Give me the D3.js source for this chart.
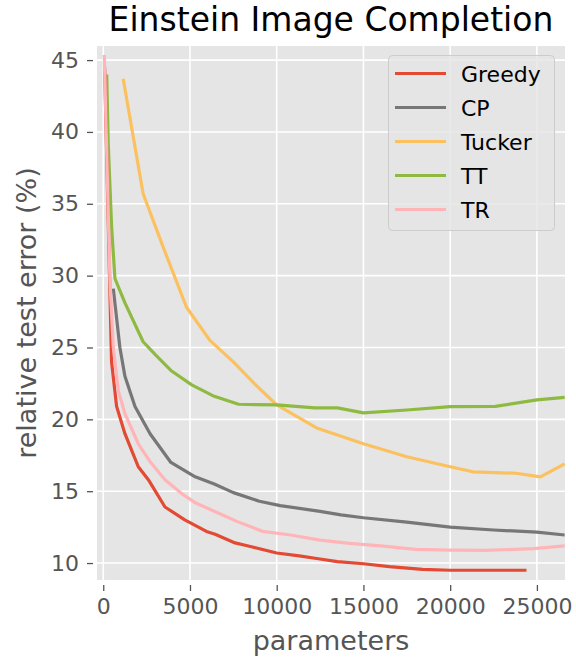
<!DOCTYPE html>
<html>
<head>
<meta charset="utf-8">
<script src="https://cdn.jsdelivr.net/npm/d3@7"></script>
<style>
  body { margin: 0; background: #fff; }
  svg { font-family: "DejaVu Sans", sans-serif; }
</style>
</head>
<body>
<svg id="chart" width="576" height="661"></svg>
<script>
// values: [parameters, relative test error %]
var greedy = [[80,44.5],[480,24.0],[770,20.9],[1250,19.0],[1650,17.8],[2020,16.7],[2600,15.8],[3560,13.9],[4700,13.0],[5950,12.2],[6450,12.0],[7600,11.4],[8300,11.2],[10000,10.7],[11300,10.5],[12400,10.3],[13500,10.1],[15000,9.95],[16500,9.75],[18400,9.56],[20000,9.5],[22000,9.5],[24400,9.5]];
var cp = [[580,29.1],[960,25.0],[1250,23.0],[1830,20.9],[2700,19.0],[3900,17.0],[5300,16.0],[6400,15.5],[7500,14.9],[9000,14.3],[10200,14.0],[12500,13.6],[13700,13.35],[15000,13.15],[17500,12.85],[20000,12.5],[22500,12.3],[25000,12.15],[26600,11.95]];
var tucker = [[1150,43.7],[2300,35.7],[3450,32.0],[4800,27.8],[6150,25.5],[7500,24.0],[8700,22.5],[10000,21.0],[12300,19.4],[15000,18.3],[17500,17.4],[20000,16.7],[21300,16.35],[23800,16.25],[25200,16.0],[26600,16.9]];
var tt = [[200,44.0],[290,39.1],[485,33.3],[675,29.8],[1250,28.1],[2300,25.4],[3000,24.5],[3900,23.4],[5100,22.4],[6400,21.6],[7800,21.05],[10000,21.0],[12200,20.8],[13500,20.8],[15000,20.45],[17500,20.65],[20000,20.88],[22600,20.9],[25000,21.35],[26600,21.53]];
var tr = [[60,45.35],[386,29.7],[577,25.05],[865,22.0],[1250,20.4],[2020,18.3],[2700,17.05],[3560,15.8],[4500,14.85],[5300,14.2],[6400,13.6],[7700,12.9],[9200,12.2],[10800,11.95],[12500,11.6],[14200,11.37],[16000,11.2],[18000,10.95],[20000,10.9],[22000,10.88],[24800,11.0],[26600,11.2]];

var seriesNames = ["Greedy", "CP", "Tucker", "TT", "TR"];
var seriesData = [greedy, cp, tucker, tt, tr];
var seriesColors = ["#E24A33", "#777777", "#FBC15E", "#8EBA42", "#FFB5B8"];
// drawing order: TR is on top of greedy at the start
var drawOrder = [1, 2, 3, 0, 4];

var xTicks = [0, 5000, 10000, 15000, 20000, 25000];
var yTicks = [10, 15, 20, 25, 30, 35, 40, 45];

var svg = d3.select("#chart");
var pLeft = 97, pRight = 565, pTop = 46, pBottom = 580;

var x = d3.scaleLinear().domain([-360, 26620]).range([pLeft, pRight]);
var y = d3.scaleLinear().domain([8.82, 45.98]).range([pBottom, pTop]);

svg.append("rect")
  .attr("x", pLeft).attr("y", pTop)
  .attr("width", pRight - pLeft).attr("height", pBottom - pTop)
  .attr("fill", "#E5E5E5");

// grid
var grid = svg.append("g");
grid.selectAll(".gx").data(xTicks).enter().append("line")
  .attr("x1", d => x(d)).attr("x2", d => x(d))
  .attr("y1", pTop).attr("y2", pBottom)
  .attr("stroke", "#fff").attr("stroke-width", 1.6);
grid.selectAll(".gy").data(yTicks).enter().append("line")
  .attr("x1", pLeft).attr("x2", pRight)
  .attr("y1", d => y(d)).attr("y2", d => y(d))
  .attr("stroke", "#fff").attr("stroke-width", 1.6);

// axes, offset a bit from the plot like the reference
var xAxis = svg.append("g")
  .attr("transform", "translate(0," + (pBottom + 5) + ")")
  .call(d3.axisBottom(x).tickValues(xTicks).tickSize(6).tickPadding(7).tickFormat(d3.format("d")));
var yAxis = svg.append("g")
  .attr("transform", "translate(" + (pLeft - 4) + ",0)")
  .call(d3.axisLeft(y).tickValues(yTicks).tickSize(6).tickPadding(8).tickFormat(d3.format("d")));

[xAxis, yAxis].forEach(function (a) {
  a.select(".domain").remove();
  a.selectAll(".tick line").attr("stroke", "#555").attr("stroke-width", 1.3);
  a.selectAll(".tick text")
    .attr("fill", "#555")
    .style("font-size", "22px")
    .style("font-family", "DejaVu Sans");
});

svg.append("defs").append("clipPath").attr("id", "clip")
  .append("rect").attr("x", pLeft).attr("y", pTop)
  .attr("width", pRight - pLeft).attr("height", pBottom - pTop);

var line = d3.line().x(d => x(d[0])).y(d => y(d[1]));

svg.append("g").attr("clip-path", "url(#clip)")
  .selectAll("path").data(drawOrder).enter().append("path")
  .attr("d", i => line(seriesData[i]))
  .attr("fill", "none")
  .attr("stroke", i => seriesColors[i])
  .attr("stroke-width", 3.2)
  .attr("stroke-linejoin", "round");

// legend
var lg = svg.append("g");
lg.append("rect")
  .attr("x", 388.5).attr("y", 55.5)
  .attr("width", 166).attr("height", 175)
  .attr("rx", 4)
  .attr("fill", "#E5E5E5").attr("fill-opacity", 0.8)
  .attr("stroke", "#CCCCCC").attr("stroke-width", 1);

var items = lg.selectAll(".item").data(seriesNames).enter().append("g")
  .attr("transform", (d, i) => "translate(0," + (73.5 + i * 34) + ")");
items.append("line")
  .attr("x1", 395).attr("x2", 446)
  .attr("stroke", (d, i) => seriesColors[i])
  .attr("stroke-width", 3.2);
items.append("text")
  .attr("x", 461).attr("y", 8.5)
  .style("font-size", "22px")
  .attr("fill", "#000")
  .text(d => d);

// title and axis labels
svg.append("text")
  .attr("x", (pLeft + pRight) / 2).attr("y", 31)
  .attr("text-anchor", "middle")
  .style("font-size", "33px")
  .attr("fill", "#000")
  .text("Einstein Image Completion");

svg.append("text")
  .attr("x", (pLeft + pRight) / 2).attr("y", 650)
  .attr("text-anchor", "middle")
  .style("font-size", "27px")
  .attr("fill", "#555")
  .text("parameters");

svg.append("text")
  .attr("transform", "translate(36," + ((pTop + pBottom) / 2) + ") rotate(-90)")
  .attr("text-anchor", "middle")
  .style("font-size", "27px")
  .attr("fill", "#555")
  .text("relative test error (%)");
</script>
</body>
</html>
